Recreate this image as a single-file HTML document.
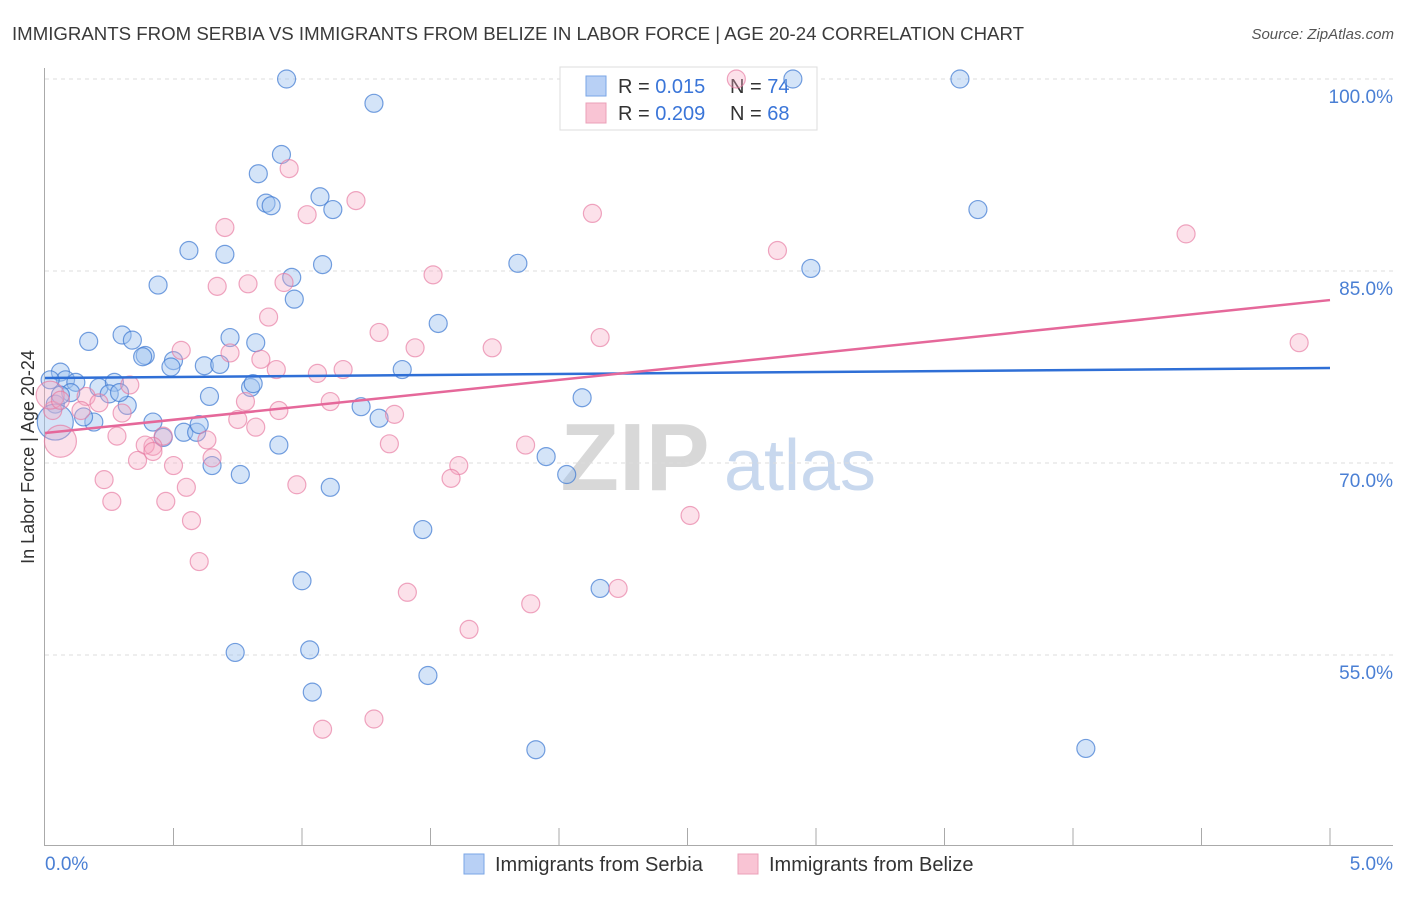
<!DOCTYPE html>
<html><head><meta charset="utf-8"><style>
body{margin:0;background:#fff;font-family:"Liberation Sans",sans-serif;}
svg text{font-family:"Liberation Sans",sans-serif;}
</style></head><body>
<svg id="chart" width="1406" height="892" xmlns="http://www.w3.org/2000/svg">
<text x="12" y="40" font-size="18.5" fill="#3a3a3a" textLength="1012" lengthAdjust="spacingAndGlyphs">IMMIGRANTS FROM SERBIA VS IMMIGRANTS FROM BELIZE IN LABOR FORCE | AGE 20-24 CORRELATION CHART</text>
<text x="1394" y="39" font-size="15" fill="#555" font-style="italic" text-anchor="end">Source: ZipAtlas.com</text>
<g>
<text x="635" y="490" font-size="96" fill="#d8d8d8" font-family="Liberation Serif" text-anchor="middle" font-weight="bold">ZIP</text>
<text x="800" y="490" font-size="72" fill="#c8d8ee" text-anchor="middle">atlas</text>
</g>
<g id="grid"></g>
<line x1="44.5" y1="68" x2="44.5" y2="845" stroke="#aaa"/>
<line x1="44" y1="845.5" x2="1393" y2="845.5" stroke="#aaa"/>
<g id="ticks"></g>
<text transform="translate(34,457) rotate(-90)" font-size="18" fill="#333" text-anchor="middle">In Labor Force | Age 20-24</text>
<text x="45" y="870" font-size="19" fill="#4a7fd4">0.0%</text>
<text x="1393" y="870" font-size="19" fill="#4a7fd4" text-anchor="end">5.0%</text>
<g>
<rect x="560" y="67" width="257" height="63" fill="#fff" stroke="#ddd"/>
<rect x="586" y="76" width="20" height="20" fill="#b8d0f5" stroke="#7aa6e6"/>
<rect x="586" y="103" width="20" height="20" fill="#f9c4d4" stroke="#eba0b8"/>
<text x="618" y="93" font-size="20" fill="#333">R = <tspan fill="#3a75d8">0.015</tspan></text>
<text x="730" y="93" font-size="20" fill="#333">N = <tspan fill="#3a75d8">74</tspan></text>
<text x="618" y="120" font-size="20" fill="#333">R = <tspan fill="#3a75d8">0.209</tspan></text>
<text x="730" y="120" font-size="20" fill="#333">N = <tspan fill="#3a75d8">68</tspan></text>
</g>
<g id="points"></g>
<g id="lines"></g>
<g>
<rect x="464" y="854" width="20" height="20" fill="#b8d0f5" stroke="#7aa6e6"/>
<text x="495" y="871" font-size="20" fill="#333">Immigrants from Serbia</text>
<rect x="738" y="854" width="20" height="20" fill="#f9c4d4" stroke="#eba0b8"/>
<text x="769" y="871" font-size="20" fill="#333">Immigrants from Belize</text>
</g>
</svg>
<script>
const yTicks=[100,85,70,55];
const yTickLabels=["100.0%","85.0%","70.0%","55.0%"];
const serbiaX=[0.94,1.28,0.92,0.83,0.86,0.88,1.07,1.12,0.56,0.70,0.44,0.96,0.97,1.08,1.84,2.98,3.56,2.91,3.63,0.17,0.30,0.34,0.39,0.38,0.50,0.49,0.72,0.82,0.62,0.68,1.53,1.39,0.06,0.08,0.12,0.21,0.27,0.25,0.32,0.80,0.81,0.64,1.23,1.30,0.42,0.19,0.15,0.46,0.54,0.59,0.60,0.91,0.65,0.76,1.11,1.95,2.03,2.09,1.47,1.00,2.16,0.74,1.03,1.04,1.49,1.91,4.05,0.04,0.04,0.10,0.02,0.06,0.29];
const serbiaY=[100,98.1,94.1,92.6,90.3,90.1,90.8,89.8,86.6,86.3,83.9,84.5,82.8,85.5,85.6,85.2,100,100,89.8,79.5,80.0,79.6,78.4,78.3,78.0,77.5,79.8,79.4,77.6,77.7,80.9,77.3,77.1,76.5,76.3,75.9,76.3,75.4,74.5,75.9,76.2,75.2,74.4,73.5,73.2,73.2,73.6,72.0,72.4,72.4,73.0,71.4,69.8,69.1,68.1,70.5,69.1,75.1,64.8,60.8,60.2,55.2,55.4,52.1,53.4,47.6,47.7,74.6,73.2,75.5,76.5,75.3,75.5];
const serbiaSize=[];serbiaX.forEach((_,i)=>serbiaSize.push(i==68?18:9));
const belizeX=[2.69,0.95,1.21,1.02,2.13,0.70,2.85,4.44,1.51,0.67,0.79,0.87,0.93,1.30,2.16,1.44,1.74,0.53,0.72,0.84,0.90,1.06,1.16,4.88,0.33,0.78,1.11,0.91,1.36,0.16,0.21,0.30,0.14,0.28,0.46,0.42,0.39,0.42,0.75,0.82,0.63,1.34,1.87,0.36,0.50,0.65,1.61,1.58,0.23,0.55,0.98,0.26,0.47,0.57,2.51,0.60,1.41,1.89,2.23,1.65,1.28,1.08,0.06,0.03,0.02,0.06];
const belizeY=[100,93.0,90.5,89.4,89.5,88.4,86.6,87.9,84.7,83.8,84.0,81.4,84.1,80.2,79.8,79.0,79.0,78.8,78.6,78.1,77.3,77.0,77.3,79.4,76.1,74.8,74.8,74.1,73.8,75.2,74.7,73.9,74.1,72.1,72.1,71.3,71.4,70.9,73.4,72.8,71.8,71.5,71.4,70.2,69.8,70.4,69.8,68.8,68.7,68.1,68.3,67.0,67.0,65.5,65.9,62.3,59.9,59.0,60.2,57.0,50.0,49.2,71.7,74.1,75.3,74.9];
const belizeSize=[];belizeX.forEach((_,i)=>belizeSize.push(i==62?16:(i==64?14:9)));
const serbiaTrend=[76.64,77.42];
const belizeTrend=[72.34,82.73];
const X=v=>45+v*257;
const Y=v=>79+(100-v)*12.8;
const NS="http://www.w3.org/2000/svg";
const mk=(t,a)=>{const e=document.createElementNS(NS,t);for(const k in a)e.setAttribute(k,a[k]);return e;};
const grid=document.getElementById('grid');
yTicks.forEach((t,i)=>{
 const l=mk('line',{x1:45,x2:1393,y1:Y(t),y2:Y(t),stroke:'#ddd','stroke-dasharray':'4,4'});
 
 
 grid.appendChild(l);
 const tx=mk('text',{x:1393,y:Y(t)+24,'font-size':19,fill:'#4a7fd4','text-anchor':'end'});
 tx.textContent=yTickLabels[i];
 
 
 grid.appendChild(tx);
});
const ticks=document.getElementById('ticks');
for(let i=1;i<=10;i++){
 const l=mk('line',{x1:X(i*0.5),x2:X(i*0.5),y1:828,y2:845,stroke:'#aaa'});
 
 
 ticks.appendChild(l);
}
const pts=document.getElementById('points');
serbiaX.forEach((x,i)=>{
 const c=mk('circle',{cx:X(x),cy:Y(serbiaY[i]),r:serbiaSize[i],fill:'rgba(160,195,240,0.45)',stroke:'rgba(60,120,210,0.7)','stroke-width':1.2});
 
 
 pts.appendChild(c);
});
belizeX.forEach((x,i)=>{
 const c=mk('circle',{cx:X(x),cy:Y(belizeY[i]),r:belizeSize[i],fill:'rgba(245,170,195,0.35)',stroke:'rgba(230,120,160,0.65)','stroke-width':1.2});
 
 
 pts.appendChild(c);
});
const lines=document.getElementById('lines');
const l1=mk('line',{x1:X(0),x2:X(5),y1:Y(serbiaTrend[0]),y2:Y(serbiaTrend[1]),stroke:'#2f6fd6','stroke-width':2.5});


lines.appendChild(l1);
const l2=mk('line',{x1:X(0),x2:X(5),y1:Y(belizeTrend[0]),y2:Y(belizeTrend[1]),stroke:'#e5689a','stroke-width':2.5});


lines.appendChild(l2);
</script>
</body></html>
